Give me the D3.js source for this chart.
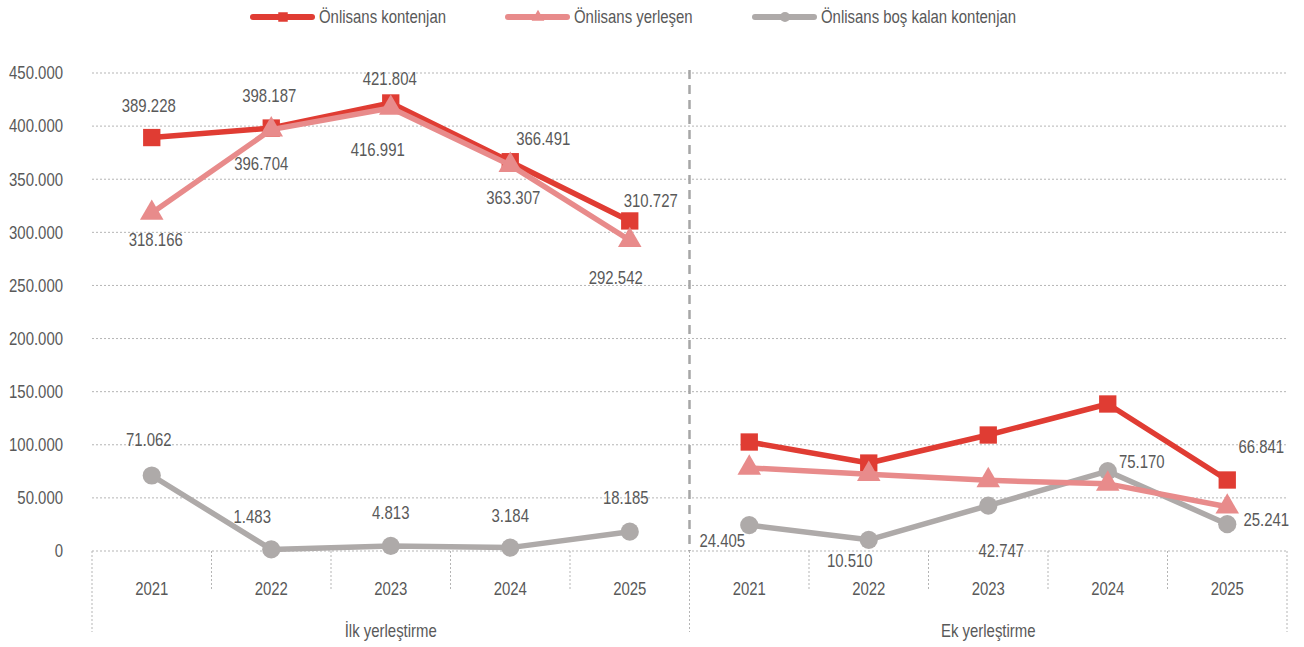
<!DOCTYPE html>
<html>
<head>
<meta charset="utf-8">
<script src="https://cdn.jsdelivr.net/npm/d3@7"></script>
<style>
  body { margin: 0; background: #fff; }
  text { font-family: "Liberation Sans", Arial, sans-serif; fill: #595959; }
</style>
</head>
<body>
<script>
// data
var years = ['2021', '2022', '2023', '2024', '2025'];
var groups = ['İlk yerleştirme', 'Ek yerleştirme'];
var seriesNames = ['Önlisans kontenjan', 'Önlisans yerleşen', 'Önlisans boş kalan kontenjan'];
var ilkKontenjan = [389228, 398187, 421804, 366491, 310727];
var ilkYerlesen = [318166, 396704, 416991, 363307, 292542];
var ilkBos = [71062, 1483, 4813, 3184, 18185];
var ekKontenjan = [102600, 82800, 109200, 138400, 66841];
var ekYerlesen = [78200, 72300, 66500, 63200, 41600];
var ekBos = [24405, 10510, 42747, 75170, 25241];
var yTicks = [0, 50000, 100000, 150000, 200000, 250000, 300000, 350000, 400000, 450000];

// label placement per point: [dx, dy] or null (no label)
var labelPos = [
  [[[-3, -32], [-2, -32], [-1, -24], [33, -23], [21, -20]],
   [null, null, null, null, [34, -33]]],
  [[[4, 27], [-10, 34], [-13, 42], [3, 33], [-14, 37]],
   [null, null, null, null, null]],
  [[[-3, -36], [-19, -33], [0, -33], [0, -32], [-4, -34]],
   [[-27, 16], [-19, 21], [13, 45], [34, -9], [39, -4]]]
];

var colors = ['#e03c33', '#e88b8b', '#aeaaa9'];
var shapes = [d3.symbolSquare, d3.symbolTriangle, d3.symbolCircle];

var width = 1304, height = 647;
var margin = { left: 92, right: 17, top: 73, bottom: 96 };
var squeeze = 0.83; // narrow font look

var svg = d3.select('body').append('svg').attr('width', width).attr('height', height);

function addText(parent, px, py, str, anchor, size) {
  return parent.append('text')
    .attr('transform', 'translate(' + px + ',' + py + ') scale(' + squeeze + ',1)')
    .attr('dy', '0.35em').attr('text-anchor', anchor || 'middle')
    .style('font-size', (size || 18) + 'px')
    .text(str);
}

var keys = [];
groups.forEach(function (g, gi) { years.forEach(function (y) { keys.push(gi + '-' + y); }); });

var x = d3.scaleBand().domain(keys).range([margin.left, width - margin.right]);
var y = d3.scaleLinear().domain([0, 450000]).range([height - margin.bottom, margin.top]);
var fmt = d3.formatLocale({ decimal: ',', thousands: '.', grouping: [3], currency: ['', ''] }).format(',d');
var cx = function (k) { return x(k) + x.bandwidth() / 2; };

// gridlines
svg.append('g').selectAll('line').data(yTicks).enter().append('line')
  .attr('x1', margin.left).attr('x2', width - margin.right)
  .attr('y1', function (d) { return y(d); }).attr('y2', function (d) { return y(d); })
  .attr('stroke', '#b5b5b5').attr('stroke-width', 1).attr('stroke-dasharray', '2,2');

// y labels
var yAxisG = svg.append('g');
yTicks.forEach(function (t) { addText(yAxisG, 63, y(t), fmt(t), 'end'); });

// x axis: separators
var y0 = y(0);
var bounds = keys.map(function (k) { return x(k); }).concat([width - margin.right]);
svg.append('g').selectAll('line').data(bounds).enter().append('line')
  .attr('x1', function (d) { return d; }).attr('x2', function (d) { return d; })
  .attr('y1', y0)
  .attr('y2', function (d, i) { return i % 5 === 0 ? 632 : 591; })
  .attr('stroke', '#b5b5b5').attr('stroke-dasharray', '2,2');

var xAxisG = svg.append('g');
keys.forEach(function (k) { addText(xAxisG, cx(k), 589, k.split('-')[1]); });
groups.forEach(function (g, i) {
  addText(xAxisG, (x(i + '-2021') + x(i + '-2025') + x.bandwidth()) / 2, 631, g);
});

// dashed separator between groups
svg.append('line')
  .attr('x1', x('1-2021')).attr('x2', x('1-2021'))
  .attr('y1', 70).attr('y2', y0)
  .attr('stroke', '#a6a6a6').attr('stroke-width', 2.5).attr('stroke-dasharray', '9,6');

// series
var seriesData = [
  [ilkKontenjan, ekKontenjan],
  [ilkYerlesen, ekYerlesen],
  [ilkBos, ekBos]
];
var line = d3.line()
  .x(function (d) { return cx(d.key); })
  .y(function (d) { return y(d.value); });

var markerSize = [300, 240, 260];

[2, 0, 1].forEach(function (si) {
  var g = svg.append('g');
  seriesData[si].forEach(function (vals, gi) {
    var pts = vals.map(function (v, i) { return { key: gi + '-' + years[i], value: v }; });
    g.append('path').datum(pts).attr('d', line)
      .attr('fill', 'none').attr('stroke', colors[si]).attr('stroke-width', 5.5)
      .attr('stroke-linejoin', 'round');
    g.selectAll('.m' + gi).data(pts).enter().append('path')
      .attr('transform', function (d) { return 'translate(' + cx(d.key) + ',' + y(d.value) + ')'; })
      .attr('d', d3.symbol().type(shapes[si]).size(markerSize[si]))
      .attr('fill', colors[si]);
  });
});

// data labels drawn on top
var labelG = svg.append('g');
[0, 1, 2].forEach(function (si) {
  seriesData[si].forEach(function (vals, gi) {
    vals.forEach(function (v, i) {
      var p = labelPos[si][gi][i];
      if (!p) return;
      addText(labelG, cx(gi + '-' + years[i]) + p[0], y(v) + p[1], fmt(v));
    });
  });
});

// legend
var legendX = [253, 508, 755];
var legend = svg.append('g').selectAll('g').data(seriesNames).enter().append('g')
  .attr('transform', function (d, i) { return 'translate(' + legendX[i] + ',17)'; });
legend.append('line').attr('x1', 0).attr('x2', 59).attr('y1', 0).attr('y2', 0)
  .attr('stroke', function (d, i) { return colors[i]; }).attr('stroke-width', 6).attr('stroke-linecap', 'round');
legend.append('path').attr('transform', 'translate(30,0)')
  .attr('d', function (d, i) { return d3.symbol().type(shapes[i]).size([90, 70, 80][i])(); })
  .attr('fill', function (d, i) { return colors[i]; });
legend.each(function (d) { addText(d3.select(this), 66, 0, d, 'start', 18); });
</script>
</body>
</html>
